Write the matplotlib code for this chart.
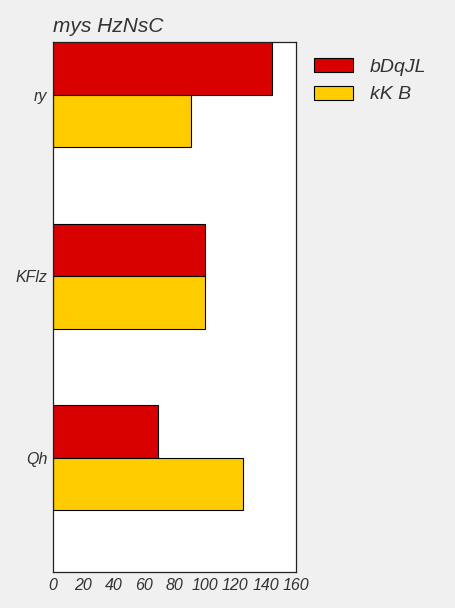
import numpy as np
import matplotlib.pyplot as plt

categories = ["ry", "KFlz", "Qh"]
series_names = ["bDqJL", "kK B"]
red_values = [144, 100, 69]
yellow_values = [91, 100, 125]
colors = ["#d90000", "#ffcc00"]

plt.rcParams["font.family"] = ["Liberation Sans", "DejaVu Sans"]
plt.rcParams["font.style"] = "italic"
text_color = "#333333"

fig = plt.figure(figsize=(4.56, 6.08), dpi=100, facecolor="#f0f0f0")
ax = fig.add_axes([0.1162, 0.0592, 0.5329, 0.8717])
ax.set_facecolor("white")

y = np.arange(len(categories))
h = 0.29
ax.barh(y - h / 2, red_values, height=h, color=colors[0], edgecolor="black",
        linewidth=0.8, label=series_names[0])
ax.barh(y + h / 2, yellow_values, height=h, color=colors[1], edgecolor="black",
        linewidth=0.8, label=series_names[1])

ax.set_yticks(y)
ax.set_yticklabels(categories)
ax.set_ylim(2.63, -0.29)
ax.set_xlim(0, 160)
ax.set_xticks(np.arange(0, 161, 20))
ax.tick_params(length=0, labelsize=11.5, colors=text_color, pad=4)
for s in ax.spines.values():
    s.set_color("#222222")
    s.set_linewidth(0.9)

ax.set_title("mys HzNsC", loc="left", fontsize=15, color=text_color, pad=7)

leg = ax.legend(loc="upper left", bbox_to_anchor=(1.003, 1.003), frameon=False,
                fontsize=14, handlelength=2.0, handleheight=0.75,
                handletextpad=0.85, labelspacing=0.5)
for t in leg.get_texts():
    t.set_color(text_color)

fig.savefig("out.png", dpi=100, facecolor=fig.get_facecolor())
